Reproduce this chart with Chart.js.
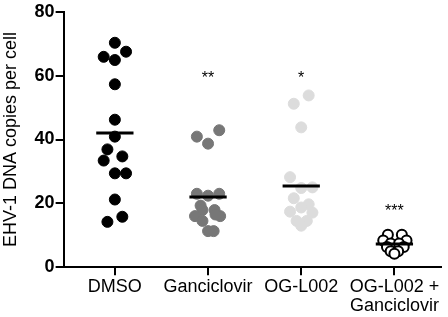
<!DOCTYPE html>
<html>
<head>
<meta charset="utf-8">
<script src="https://cdn.jsdelivr.net/npm/chart.js@4"></script>
<style>
  html, body { margin: 0; padding: 0; background: #fff; }
  #wrap { width: 448px; height: 317px; }
</style>
</head>
<body>
<div id="wrap"><canvas id="myChart"></canvas></div>
<script>
// groups along x
var groups = ['DMSO', 'Ganciclovir', 'OG-L002', ['OG-L002 +', 'Ganciclovir']];

// copies per cell
var dmso = [70.3, 67.5, 65.9, 64.9, 57.3, 46.2, 40.9, 36.9, 34.7, 33.4, 29.4, 29.4, 21.2, 15.8, 14.2];
var dmsoJitter = [0, 0.12, -0.12, 0, 0, 0, 0, -0.08, 0.08, -0.12, 0, 0.12, 0, 0.08, -0.08];

var ganciclovir = [42.9, 40.9, 38.7, 23.0, 22.4, 23.0, 19.3, 17.9, 17.9, 16.0, 16.0, 16.5, 14.5, 11.3, 11.3];
var ganciclovirJitter = [0.12, -0.12, 0, -0.12, 0, 0.12, -0.08, -0.06, 0.07, -0.14, 0.13, 0.08, -0.06, 0, 0.06];

var ogl002 = [53.8, 51.2, 43.8, 28.2, 24.8, 25.0, 21.6, 19.7, 18.7, 17.4, 17.1, 14.5, 14.5, 13.0];
var ogl002Jitter = [0.08, -0.08, 0, -0.12, 0, 0.12, -0.08, 0.08, 0, -0.12, 0.12, -0.05, 0.06, 0];

var combo = [10.2, 10.2, 8.4, 8.4, 7.4, 7.4, 6.3, 6.3, 5.0, 5.0, 4.2];
var comboJitter = [-0.07, 0.08, -0.12, 0.13, -0.04, 0.05, -0.08, 0.1, -0.04, 0.04, 0];

var means = [42.0, 22.0, 25.4, 7.3];
var stars = ['', '**', '*', '***'];
var starY = [null, 60, 60, 18.5];

function pts(vals, jit, pos) {
  return vals.map(function (v, i) { return { x: pos + jit[i], y: v }; });
}

function meanLine(i) {
  return {
    type: 'line',
    data: [{ x: i + 1 - 0.2, y: means[i] }, { x: i + 1 + 0.2, y: means[i] }],
    borderColor: '#000',
    borderWidth: 3,
    pointRadius: 0,
    showLine: true,
    order: -1
  };
}

var starPlugin = {
  id: 'stars',
  afterDatasetsDraw: function (chart) {
    var ctx = chart.ctx;
    var xs = chart.scales.x, ys = chart.scales.y;
    ctx.save();
    ctx.fillStyle = '#000';
    ctx.font = '16px "Liberation Sans"';
    ctx.textAlign = 'center';
    ctx.textBaseline = 'middle';
    stars.forEach(function (s, i) {
      if (!s) return;
      ctx.fillText(s, xs.getPixelForValue(i + 1), ys.getPixelForValue(starY[i]) + 3);
    });
    ctx.restore();
  }
};

var ctx = document.getElementById('myChart').getContext('2d');
var myChart = new Chart(ctx, {
  type: 'scatter',
  data: {
    datasets: [{
      data: pts(dmso, dmsoJitter, 1),
      backgroundColor: '#000',
      borderColor: '#000',
      pointRadius: 5.5
    }, {
      data: pts(ganciclovir, ganciclovirJitter, 2),
      backgroundColor: '#777',
      borderColor: '#777',
      pointRadius: 5.5
    }, {
      data: pts(ogl002, ogl002Jitter, 3),
      backgroundColor: '#dcdcdc',
      borderColor: '#dcdcdc',
      pointRadius: 5.5
    }, {
      data: pts(combo, comboJitter, 4),
      backgroundColor: '#fff',
      borderColor: '#000',
      borderWidth: 2,
      pointRadius: 5
    },
    meanLine(0), meanLine(1), meanLine(2), meanLine(3)]
  },
  options: {
    responsive: true,
    maintainAspectRatio: false,
    animation: false,
    layout: { padding: { top: 3, right: 3, left: 0, bottom: 0 } },
    plugins: { legend: { display: false }, tooltip: { enabled: false } },
    scales: {
      x: {
        type: 'linear',
        min: 0.45,
        max: 4.5,
        afterBuildTicks: function (axis) {
          axis.ticks = [1, 2, 3, 4].map(function (v) { return { value: v }; });
        },
        border: { color: '#000', width: 2 },
        grid: { drawOnChartArea: false, color: '#000', lineWidth: 2, tickLength: 8 },
        ticks: {
          color: '#000',
          maxRotation: 0,
          autoSkip: false,
          padding: 2,
          font: { family: 'Liberation Sans', size: 18, lineHeight: 1.05 },
          callback: function (v) { return groups[v - 1]; }
        }
      },
      y: {
        min: 0,
        max: 80,
        border: { color: '#000', width: 2 },
        grid: { drawOnChartArea: false, color: '#000', lineWidth: 2, tickLength: 8 },
        ticks: {
          stepSize: 20,
          color: '#000',
          padding: 1,
          font: { family: 'Liberation Sans', size: 18, weight: 'bold' }
        },
        title: {
          display: true,
          text: 'EHV-1 DNA copies per cell',
          color: '#000',
          padding: { top: 0, bottom: 12 },
          font: { family: 'Liberation Sans', size: 18 }
        }
      }
    }
  },
  plugins: [starPlugin]
});
</script>
</body>
</html>
